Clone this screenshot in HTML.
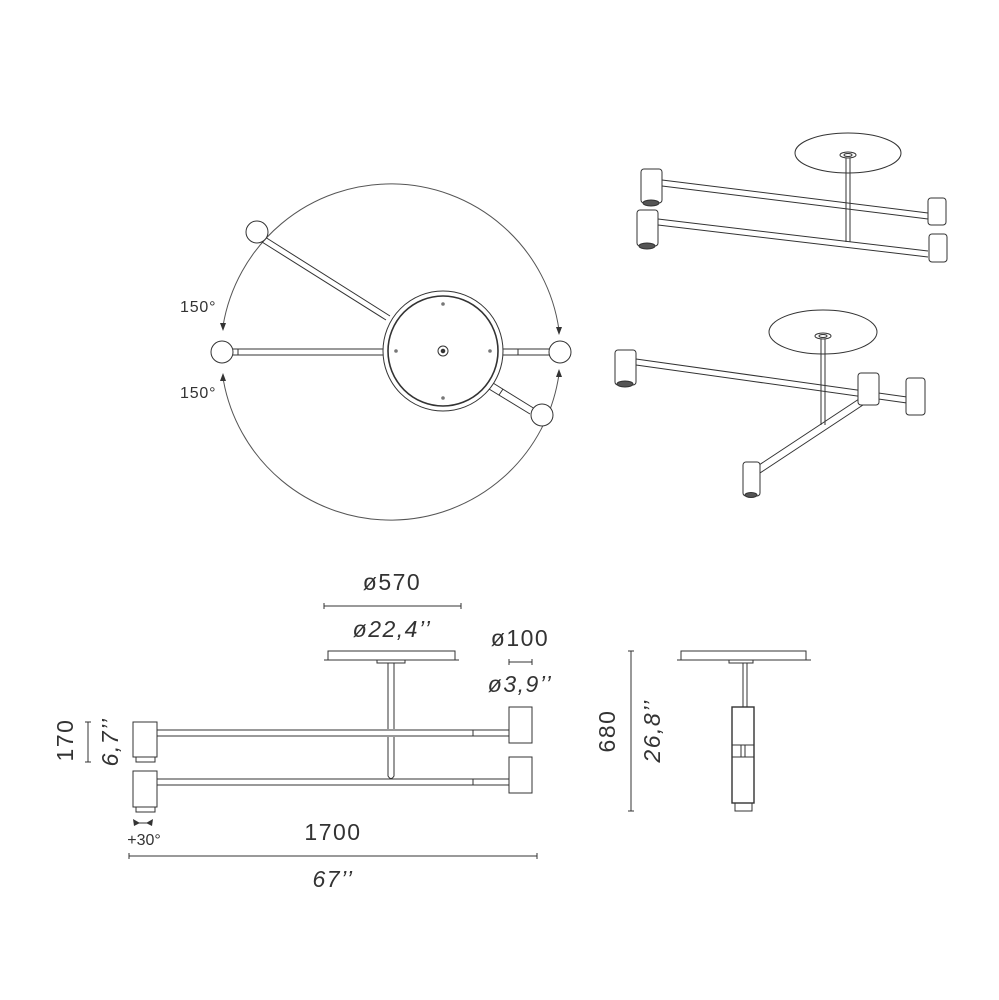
<!DOCTYPE html>
<html><head><meta charset="utf-8"><style>
html,body{margin:0;padding:0;background:#fff}
svg{display:block}
text{font-family:"Liberation Sans",sans-serif;fill:#333}
.it{font-style:italic}
</style></head><body>
<svg width="999" height="1000" viewBox="0 0 999 1000" xmlns="http://www.w3.org/2000/svg">
<g fill="none" stroke="#333" stroke-width="1">
<!-- PLAN VIEW -->
<path d="M223 326 A170 170 0 0 1 559 330" stroke="#555"/>
<path d="M223 378 A170 170 0 0 0 559 374" stroke="#555"/>
<g fill="#333" stroke="none">
<polygon points="220,323 226,323 223,331"/>
<polygon points="220,381 226,381 223,373"/>
<polygon points="556,327 562,327 559,335"/>
<polygon points="556,377 562,377 559,369"/>
</g>
<path d="M233 349 L383 349 M233 355 L383 355 M238 349 V355"/>
<path d="M265 237 L390 316 M262 242 L386 320"/>
<path d="M503 349 L549 349 M503 355 L549 355 M518 349 V355"/>
<path d="M493 383 L535 409 M489 389 L530 414 M503 389 L499 395"/>
<circle cx="222" cy="352" r="11" fill="#fff"/>
<circle cx="257" cy="232" r="11" fill="#fff"/>
<circle cx="560" cy="352" r="11" fill="#fff"/>
<circle cx="542" cy="415" r="11" fill="#fff"/>
<circle cx="443" cy="351" r="60" fill="#fff"/>
<circle cx="443" cy="351" r="55" stroke-width="1.6"/>
<circle cx="443" cy="351" r="5"/>
<circle cx="443" cy="351" r="1.8" fill="#333"/>
<g fill="#777" stroke="none">
<circle cx="443" cy="304" r="1.8"/><circle cx="443" cy="398" r="1.8"/>
<circle cx="396" cy="351" r="1.8"/><circle cx="490" cy="351" r="1.8"/>
</g>

<!-- ISO TOP -->
<ellipse cx="848" cy="153" rx="53" ry="20" fill="#fff"/>
<ellipse cx="848" cy="155" rx="8" ry="3"/>
<ellipse cx="848" cy="155" rx="4" ry="1.5"/>
<path d="M846 158 V242 M850 158 V242"/>
<path d="M662 180 L928 213 M662 186 L928 219"/>
<path d="M658 219 L928 251 M658 225 L928 257"/>
<rect x="641" y="169" width="21" height="34" rx="3" fill="#fff"/>
<ellipse cx="651" cy="203" rx="8" ry="3" fill="#555"/>
<rect x="637" y="210" width="21" height="36" rx="3" fill="#fff"/>
<ellipse cx="647" cy="246" rx="8" ry="3" fill="#555"/>
<rect x="928" y="198" width="18" height="27" rx="3" fill="#fff"/>
<rect x="929" y="234" width="18" height="28" rx="3" fill="#fff"/>
<!-- ISO BOTTOM -->
<ellipse cx="823" cy="332" rx="54" ry="22" fill="#fff"/>
<ellipse cx="823" cy="336" rx="8" ry="3"/>
<ellipse cx="823" cy="336" rx="4" ry="1.5"/>
<path d="M821 339 V425 M825 339 V425"/>
<path d="M636 359 L907 397 M636 365 L907 403"/>
<path d="M862 397 L756 467 M866 403 L760 473"/>
<rect x="615" y="350" width="21" height="35" rx="3" fill="#fff"/>
<ellipse cx="625" cy="384" rx="8" ry="3" fill="#555"/>
<rect x="858" y="373" width="21" height="32" rx="3" fill="#fff"/>
<rect x="906" y="378" width="19" height="37" rx="3" fill="#fff"/>
<rect x="743" y="462" width="17" height="34" rx="3" fill="#fff"/>
<ellipse cx="751" cy="495" rx="6" ry="2.5" fill="#555"/>

<!-- FRONT VIEW -->
<path d="M324 606 H461 M324 603 V609 M461 603 V609"/>
<path d="M509 662 H532 M509 659 V665 M532 659 V665"/>
<path d="M129 856 H537 M129 853 V859 M537 853 V859"/>
<path d="M88 722 V762 M85 722 H91 M85 762 H91"/>
<rect x="328" y="651" width="127" height="9"/>
<path d="M324 660 H459 M377 660 V663 H405 V660"/>
<path d="M388 663 V729 M394 663 V729"/>
<path d="M157 730 H509 M157 736 H509 M473 730 V736"/>
<path d="M157 779 H509 M157 785 H509 M473 779 V785"/>
<path d="M388 737 V776 Q391 781 394 776 V737"/>
<rect x="133" y="722" width="24" height="35" fill="#fff"/>
<rect x="136" y="757" width="19" height="5"/>
<rect x="133" y="771" width="24" height="36" fill="#fff"/>
<rect x="136" y="807" width="19" height="5"/>
<rect x="509" y="707" width="23" height="36" fill="#fff"/>
<rect x="509" y="757" width="23" height="36" fill="#fff"/>
<path d="M135 823 L151 823"/>
<g fill="#333" stroke="none">
<polygon points="133,819 140,823 134,826"/><polygon points="153,819 146,823 152,826"/>
</g>

<!-- SIDE VIEW -->
<path d="M631 651 V811 M628 651 H634 M628 811 H634"/>
<rect x="681" y="651" width="125" height="9"/>
<path d="M677 660 H811 M729 660 V663 H753 V660"/>
<path d="M743 663 V707 M747 663 V707"/>
<rect x="732" y="707" width="22" height="96" fill="#fff" stroke-width="1.4"/>
<path d="M732 745 H754 M732 757 H754 M741 745 V757 M745 745 V757"/>
<rect x="735" y="803" width="17" height="8"/>
</g>

<g font-size="16" letter-spacing="0.8">
<text x="180" y="312">150°</text>
<text x="180" y="398">150°</text>
</g>
<g font-size="23" text-anchor="middle" letter-spacing="1.5">
<text x="392" y="590">ø570</text>
<text x="392" y="637" class="it">ø22,4’’</text>
<text x="520" y="646">ø100</text>
<text x="520" y="692" class="it">ø3,9’’</text>
<text x="333" y="840">1700</text>
<text x="333" y="887" class="it">67’’</text>
<text transform="translate(73,740) rotate(-90)">170</text>
<text transform="translate(118,742) rotate(-90)" class="it">6,7’’</text>
<text transform="translate(615,731) rotate(-90)">680</text>
<text transform="translate(660,731) rotate(-90)" class="it">26,8’’</text>
</g>
<text x="144" y="845" font-size="16" text-anchor="middle">+30°</text>
</svg>
</body></html>
